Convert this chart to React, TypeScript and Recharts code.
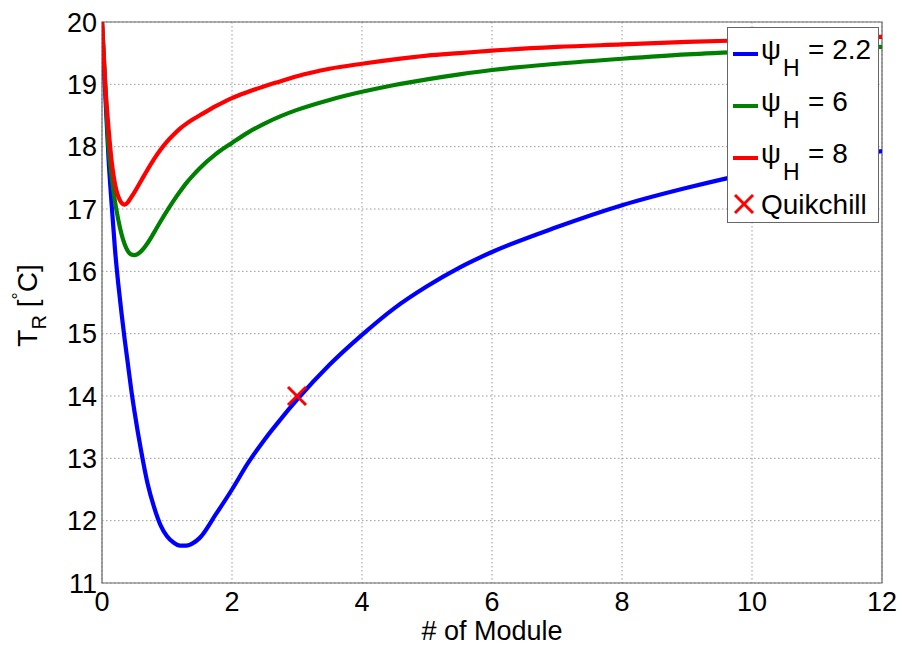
import {
  ComposedChart,
  Line,
  Scatter,
  XAxis,
  YAxis,
  CartesianGrid,
  Legend,
  ReferenceArea,
} from "recharts";

// number of modules (shared sample points)
const moduleCount = [
  0, 0.05, 0.1, 0.15, 0.2, 0.25, 0.3, 0.35, 0.4, 0.45, 0.5, 0.6, 0.7, 0.8, 0.9,
  1.0, 1.1, 1.2, 1.3, 1.4, 1.5, 1.75, 2, 2.25, 2.5, 2.75, 3, 3.5, 4, 4.5, 5,
  5.5, 6, 7, 8, 9, 10, 11, 12,
];

// T_R for psi_H = 2.2
const tPsi22 = [
  20, 18.85, 17.82, 17.05, 16.35, 15.8, 15.33, 14.9, 14.5, 14.1, 13.75, 13.13,
  12.6, 12.22, 11.93, 11.75, 11.65, 11.6, 11.6, 11.64, 11.72, 12.1, 12.5,
  12.93, 13.3, 13.63, 13.94, 14.5, 14.98, 15.41, 15.76, 16.06, 16.31, 16.71,
  17.06, 17.34, 17.58, 17.77, 17.93,
];

// T_R for psi_H = 6
const tPsi6 = [
  20, 19.0, 18.0, 17.5, 17.12, 16.83, 16.6, 16.43, 16.32, 16.27, 16.26, 16.32,
  16.45, 16.62, 16.8, 16.97, 17.13, 17.28, 17.42, 17.54, 17.65, 17.88, 18.06,
  18.23, 18.37, 18.49, 18.59, 18.75, 18.88, 18.99, 19.08, 19.16, 19.23, 19.33,
  19.41, 19.48, 19.53, 19.57, 19.6,
];

// T_R for psi_H = 8
const tPsi8 = [
  20, 19.0, 18.3, 17.75, 17.4, 17.2, 17.1, 17.07, 17.11, 17.19, 17.27, 17.45,
  17.63, 17.8, 17.95, 18.08, 18.19, 18.29, 18.37, 18.44, 18.5, 18.65, 18.78,
  18.88, 18.97, 19.05, 19.13, 19.25, 19.33, 19.4, 19.46, 19.5, 19.54, 19.6,
  19.64, 19.68, 19.71, 19.74, 19.76,
];

const quikchill = [{ m: 3, t: 14 }];

const xTicks = [0, 2, 4, 6, 8, 10, 12];
const yTicks = [11, 12, 13, 14, 15, 16, 17, 18, 19, 20];

const series = [
  { psi: "2.2", color: "#0000ff", values: tPsi22 },
  { psi: "6", color: "#008000", values: tPsi6 },
  { psi: "8", color: "#ff0000", values: tPsi8 },
];

const FONT = "'Liberation Sans', Arial, sans-serif";

const toRows = (vals: number[]) => moduleCount.map((m, i) => ({ m, t: vals[i] }));

const XMark = ({ cx, cy, r = 9 }: { cx: number; cy: number; r?: number }) => (
  <g stroke="#ff0000" strokeWidth={3}>
    <line x1={cx - r} y1={cy - r} x2={cx + r} y2={cy + r} />
    <line x1={cx - r} y1={cy + r} x2={cx + r} y2={cy - r} />
  </g>
);

const YLabel = (props: any) => {
  const vb = props.viewBox || { y: 22, height: 561 };
  const x = 37;
  const y = vb.y + vb.height / 2 + 3;
  return (
    <text
      x={x}
      y={y}
      transform={`rotate(-90, ${x}, ${y})`}
      textAnchor="middle"
      fontFamily={FONT}
      fontSize={28}
      fill="#000"
    >
      <tspan>T</tspan>
      <tspan fontSize={20} dy={9}>R</tspan>
      <tspan dy={-9}> [</tspan>
      <tspan fontSize={18} dy={-12}>°</tspan>
      <tspan dy={12}>C]</tspan>
    </text>
  );
};

const XLabel = (props: any) => {
  const vb = props.viewBox || { x: 102, y: 583, width: 780 };
  return (
    <text
      x={vb.x + vb.width / 2}
      y={vb.y + 57}
      textAnchor="middle"
      fontFamily={FONT}
      fontSize={27}
      fill="#000"
    >
      # of Module
    </text>
  );
};

const renderLegend = () => (
  <div
    style={{
      width: 150,
      height: 194,
      border: "1px solid #666",
      background: "#fff",
    }}
  >
    <svg width={150} height={194} style={{ display: "block" }}>
      {series.map((s, i) => {
        const cy = 26 + 52 * i;
        return (
          <g key={s.psi} fontFamily={FONT} fill="#000">
            <line x1={5} x2={30} y1={cy} y2={cy} stroke={s.color} strokeWidth={4} />
            <text x={33} y={cy + 5} fontSize={28}>ψ</text>
            <text x={55} y={cy + 22} fontSize={23}>H</text>
            <text x={80} y={cy + 5} fontSize={28}>= {s.psi}</text>
          </g>
        );
      })}
      <XMark cx={16} cy={176} />
      <text x={33} y={186} fontSize={28} fontFamily={FONT} fill="#000">
        Quikchill
      </text>
    </svg>
  </div>
);

export default function App() {
  return (
    <div style={{ position: "absolute", left: 0, top: 0, width: 902, height: 646, background: "#fff" }}>
      <ComposedChart
        width={902}
        height={646}
        margin={{ top: 22, right: 20, bottom: 0, left: 0 }}
      >
        <CartesianGrid stroke="#999" strokeDasharray="1.5 2.5" />
        <XAxis
          type="number"
          dataKey="m"
          domain={[0, 12]}
          ticks={xTicks}
          allowDataOverflow
          height={63}
          axisLine={false}
          tickLine={false}
          tickSize={0}
          tickMargin={9}
          tick={{ fill: "#000", fontSize: 27, fontFamily: FONT }}
          label={<XLabel />}
        />
        <YAxis
          type="number"
          domain={[11, 20]}
          ticks={yTicks}
          allowDataOverflow
          width={102}
          axisLine={false}
          tickLine={false}
          tickSize={0}
          tickMargin={5}
          tick={{ fill: "#000", fontSize: 27, fontFamily: FONT }}
          label={<YLabel />}
        />
        <ReferenceArea
          x1={0}
          x2={12}
          y1={11}
          y2={20}
          fill="none"
          stroke="#666"
          strokeWidth={1.2}
          ifOverflow="visible"
        />
        {series.map((s) => (
          <Line
            key={s.psi}
            data={toRows(s.values)}
            dataKey="t"
            type="monotone"
            stroke={s.color}
            strokeWidth={4.2}
            dot={false}
            isAnimationActive={false}
          />
        ))}
        <Scatter
          data={quikchill}
          dataKey="t"
          shape={(p: any) => <XMark cx={p.cx} cy={p.cy} />}
          isAnimationActive={false}
        />
        <Legend
          layout="vertical"
          align="center"
          verticalAlign="middle"
          content={renderLegend}
          wrapperStyle={{ left: 727, top: 27, width: 152, height: 196 }}
        />
      </ComposedChart>
    </div>
  );
}
